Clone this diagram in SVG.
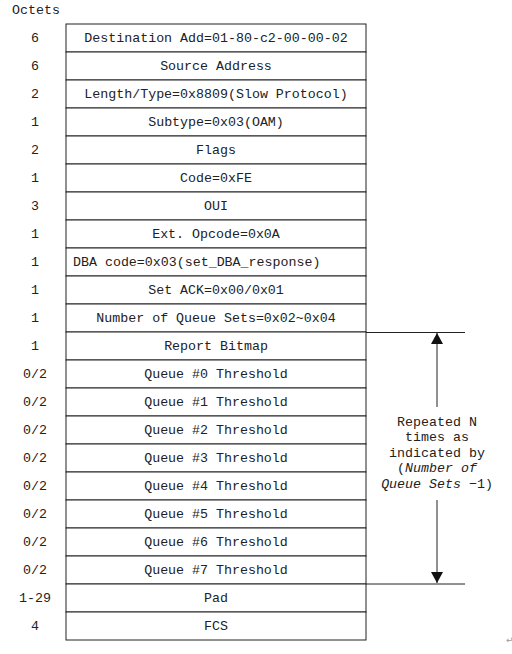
<svg xmlns="http://www.w3.org/2000/svg" width="512" height="654" viewBox="0 0 512 654">
<defs>
<style>
.t{font-family:"Liberation Mono","DejaVu Sans Mono",monospace;font-size:13.3px;fill:#222}
.c{text-anchor:middle}
.b{fill:#fff;stroke:#222;stroke-width:1}
.l{stroke:#222;stroke-width:1;fill:none}
</style>
<marker id="ah" viewBox="0 0 11 12" refX="11" refY="6" markerWidth="11" markerHeight="12" orient="auto" markerUnits="userSpaceOnUse">
<path d="M0,0 L11,6 L0,12 Z" fill="#111"/>
</marker>
</defs>
<rect width="512" height="654" fill="#fff"/>
<text class="t" x="12" y="14">Octets</text>
<g id="r1"><rect class="b" x="66" y="24" width="300" height="28"/><text class="t c" x="35" y="42">6</text><text class="t c" x="216" y="42">Destination Add=01-80-c2-00-00-02</text></g>
<g id="r2"><rect class="b" x="66" y="52" width="300" height="28"/><text class="t c" x="35" y="70">6</text><text class="t c" x="216" y="70">Source Address</text></g>
<g id="r3"><rect class="b" x="66" y="80" width="300" height="28"/><text class="t c" x="35" y="98">2</text><text class="t c" x="216" y="98">Length/Type=0x8809(Slow Protocol)</text></g>
<g id="r4"><rect class="b" x="66" y="108" width="300" height="28"/><text class="t c" x="35" y="126">1</text><text class="t c" x="216" y="126">Subtype=0x03(OAM)</text></g>
<g id="r5"><rect class="b" x="66" y="136" width="300" height="28"/><text class="t c" x="35" y="154">2</text><text class="t c" x="216" y="154">Flags</text></g>
<g id="r6"><rect class="b" x="66" y="164" width="300" height="28"/><text class="t c" x="35" y="182">1</text><text class="t c" x="216" y="182">Code=0xFE</text></g>
<g id="r7"><rect class="b" x="66" y="192" width="300" height="28"/><text class="t c" x="35" y="210">3</text><text class="t c" x="216" y="210">OUI</text></g>
<g id="r8"><rect class="b" x="66" y="220" width="300" height="28"/><text class="t c" x="35" y="238">1</text><text class="t c" x="216" y="238">Ext. Opcode=0x0A</text></g>
<g id="r9"><rect class="b" x="66" y="248" width="300" height="28"/><text class="t c" x="35" y="266">1</text><text class="t" x="73" y="266">DBA code=0x03(set_DBA_response)</text></g>
<g id="r10"><rect class="b" x="66" y="276" width="300" height="28"/><text class="t c" x="35" y="294">1</text><text class="t c" x="216" y="294">Set ACK=0x00/0x01</text></g>
<g id="r11"><rect class="b" x="66" y="304" width="300" height="28"/><text class="t c" x="35" y="322">1</text><text class="t c" x="216" y="322">Number of Queue Sets=0x02~0x04</text></g>
<g id="r12"><rect class="b" x="66" y="332" width="300" height="28"/><text class="t c" x="35" y="350">1</text><text class="t c" x="216" y="350">Report Bitmap</text></g>
<g id="r13"><rect class="b" x="66" y="360" width="300" height="28"/><text class="t c" x="35" y="378">0/2</text><text class="t c" x="216" y="378">Queue #0 Threshold</text></g>
<g id="r14"><rect class="b" x="66" y="388" width="300" height="28"/><text class="t c" x="35" y="406">0/2</text><text class="t c" x="216" y="406">Queue #1 Threshold</text></g>
<g id="r15"><rect class="b" x="66" y="416" width="300" height="28"/><text class="t c" x="35" y="434">0/2</text><text class="t c" x="216" y="434">Queue #2 Threshold</text></g>
<g id="r16"><rect class="b" x="66" y="444" width="300" height="28"/><text class="t c" x="35" y="462">0/2</text><text class="t c" x="216" y="462">Queue #3 Threshold</text></g>
<g id="r17"><rect class="b" x="66" y="472" width="300" height="28"/><text class="t c" x="35" y="490">0/2</text><text class="t c" x="216" y="490">Queue #4 Threshold</text></g>
<g id="r18"><rect class="b" x="66" y="500" width="300" height="28"/><text class="t c" x="35" y="518">0/2</text><text class="t c" x="216" y="518">Queue #5 Threshold</text></g>
<g id="r19"><rect class="b" x="66" y="528" width="300" height="28"/><text class="t c" x="35" y="546">0/2</text><text class="t c" x="216" y="546">Queue #6 Threshold</text></g>
<g id="r20"><rect class="b" x="66" y="556" width="300" height="28"/><text class="t c" x="35" y="574">0/2</text><text class="t c" x="216" y="574">Queue #7 Threshold</text></g>
<g id="r21"><rect class="b" x="66" y="584" width="300" height="28"/><text class="t c" x="35" y="602">1-29</text><text class="t c" x="216" y="602">Pad</text></g>
<g id="r22"><rect class="b" x="66" y="612" width="300" height="28"/><text class="t c" x="35" y="630">4</text><text class="t c" x="216" y="630">FCS</text></g>
<g id="connectors">
<line class="l" x1="366" y1="332.5" x2="465" y2="332.5"/>
<line class="l" x1="366" y1="584" x2="465" y2="584"/>
<line class="l" x1="437" y1="407" x2="437" y2="333" marker-end="url(#ah)"/>
<line class="l" x1="437" y1="500" x2="437" y2="583" marker-end="url(#ah)"/>
</g>
<g id="note">
<text class="t c" x="437" y="426">Repeated N</text>
<text class="t c" x="437" y="441">times as</text>
<text class="t c" x="437" y="457">indicated by</text>
<text class="t c" x="437" y="472">(<tspan font-style="italic">Number of</tspan></text>
<text class="t c" x="437" y="488"><tspan font-style="italic">Queue Sets</tspan> −1)</text>
</g>
<text x="506" y="643" style="font-family:'DejaVu Sans',sans-serif;font-size:9px;fill:#999">↵</text>
</svg>
